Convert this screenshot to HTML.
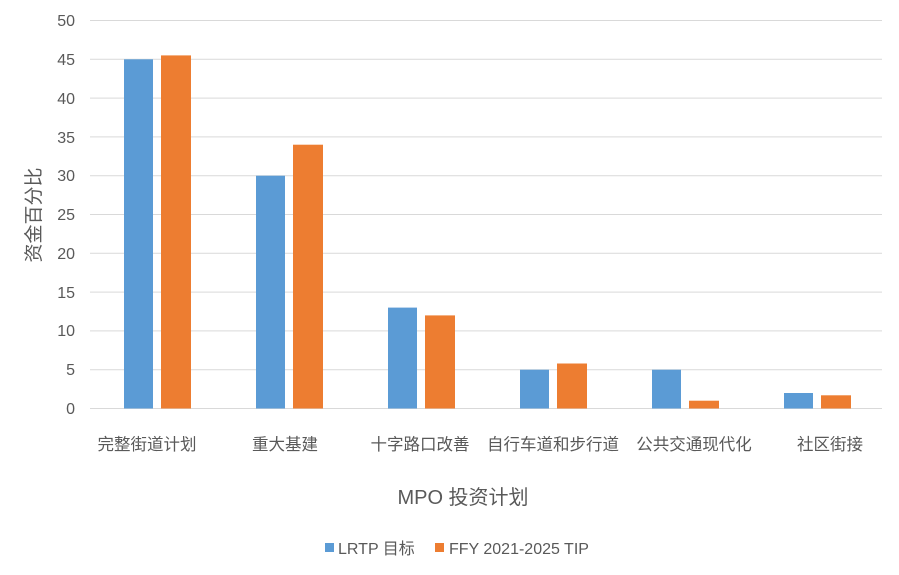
<!DOCTYPE html>
<html><head><meta charset="utf-8"><style>
body{margin:0;background:#fff}
svg text{font-family:"Liberation Sans","Noto Sans CJK SC",sans-serif;fill:#595959}
</style></head><body>
<svg width="899" height="570" xmlns="http://www.w3.org/2000/svg">
<g stroke="#d9d9d9" stroke-width="1">
<line x1="90" x2="882" y1="20.5" y2="20.5"/><line x1="90" x2="882" y1="59.3" y2="59.3"/>
<line x1="90" x2="882" y1="98.1" y2="98.1"/><line x1="90" x2="882" y1="136.9" y2="136.9"/>
<line x1="90" x2="882" y1="175.7" y2="175.7"/><line x1="90" x2="882" y1="214.5" y2="214.5"/>
<line x1="90" x2="882" y1="253.3" y2="253.3"/><line x1="90" x2="882" y1="292.1" y2="292.1"/>
<line x1="90" x2="882" y1="330.9" y2="330.9"/><line x1="90" x2="882" y1="369.7" y2="369.7"/>
<line x1="90" x2="882" y1="408.5" y2="408.5"/>
</g>
<g font-size="16" text-anchor="end">
<text x="75" y="26">50</text><text x="75" y="65">45</text><text x="75" y="104">40</text>
<text x="75" y="143">35</text><text x="75" y="181">30</text><text x="75" y="220">25</text>
<text x="75" y="259">20</text><text x="75" y="298">15</text><text x="75" y="336">10</text>
<text x="75" y="375">5</text><text x="75" y="414">0</text>
</g>
<g fill="#5B9BD5">
<rect x="124" y="59.3" width="29" height="349.2"/>
<rect x="256" y="175.7" width="29" height="232.8"/>
<rect x="388" y="307.6" width="29" height="100.9"/>
<rect x="520" y="369.7" width="29" height="38.8"/>
<rect x="652" y="369.7" width="29" height="38.8"/>
<rect x="784" y="393" width="29" height="15.5"/>
</g>
<g fill="#ED7D31">
<rect x="161" y="55.4" width="30" height="353.1"/>
<rect x="293" y="144.7" width="30" height="263.8"/>
<rect x="425" y="315.4" width="30" height="93.1"/>
<rect x="557" y="363.5" width="30" height="45"/>
<rect x="689" y="400.7" width="30" height="7.8"/>
<rect x="821" y="395.3" width="30" height="13.2"/>
</g>
<g font-size="16.5" text-anchor="middle">
<text x="147" y="450">完整街道计划</text><text x="285" y="450">重大基建</text>
<text x="420" y="450">十字路口改善</text><text x="553" y="450">自行车道和步行道</text>
<text x="694" y="450">公共交通现代化</text><text x="830" y="450">社区街接</text>
</g>
<text x="463" y="504" font-size="20" text-anchor="middle">MPO 投资计划</text>
<text transform="translate(40,215) rotate(-90)" font-size="19" text-anchor="middle">资金百分比</text>
<rect x="325" y="543" width="9" height="9" fill="#5B9BD5"/>
<text x="338" y="554" font-size="16">LRTP 目标</text>
<rect x="435" y="543" width="9" height="9" fill="#ED7D31"/>
<text x="449" y="554" font-size="16">FFY 2021-2025 TIP</text>
</svg>
</body></html>
